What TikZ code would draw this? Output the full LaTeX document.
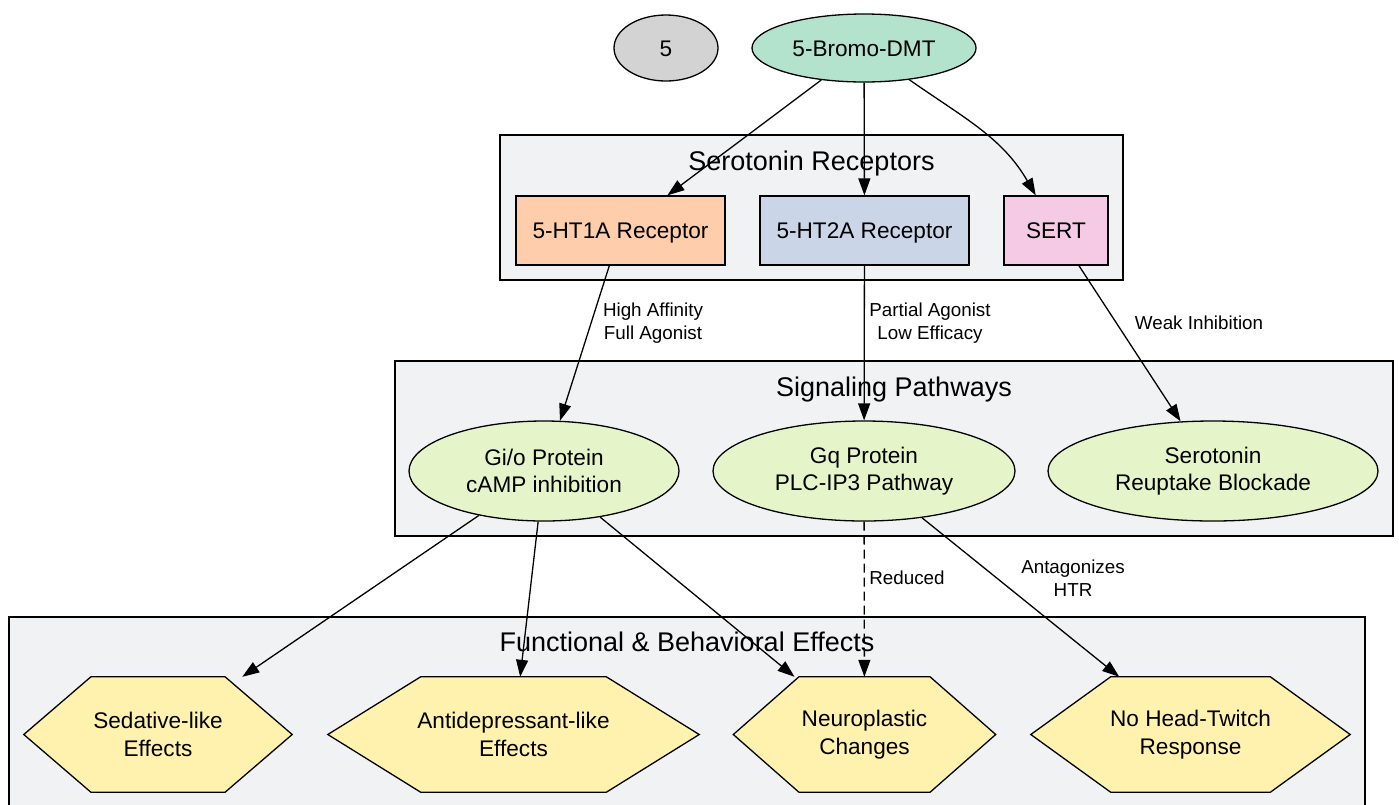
\documentclass[tikz,border=0pt]{standalone}
\usepackage{fontspec}
\setmainfont{Liberation Sans}
\usetikzlibrary{shapes.geometric,arrows.meta,calc}
\pgfdeclarelayer{bg}\pgfdeclarelayer{mid}\pgfsetlayers{bg,mid,main}
\definecolor{clusterfill}{HTML}{F1F2F4}
\definecolor{grayfill}{HTML}{D3D3D3}
\definecolor{mintfill}{HTML}{B3E2CD}
\definecolor{peachfill}{HTML}{FDCDAC}
\definecolor{bluefill}{HTML}{CBD5E8}
\definecolor{pinkfill}{HTML}{F4CAE4}
\definecolor{greenfill}{HTML}{E6F5C9}
\definecolor{hexfill}{HTML}{FFF2AE}
\newcommand\nodefont{\fontsize{22.6pt}{27.5pt}\selectfont}
\newcommand\lblfont{\fontsize{18.8pt}{22.5pt}\selectfont}
\newcommand\titlefont{\fontsize{27pt}{32pt}\selectfont}
\newcommand\drawhex[1]{\draw[hexshape] (#1.west) -- ($(#1.north west)!0.25!(#1.north east)$) -- ($(#1.north west)!0.75!(#1.north east)$) -- (#1.east) -- ($(#1.south west)!0.75!(#1.south east)$) -- ($(#1.south west)!0.25!(#1.south east)$) -- cycle;}
\begin{document}
\begin{tikzpicture}[x=1pt,y=-1pt,
  base/.style={draw=black, line width=1.3pt, inner sep=0pt, font=\nodefont, align=center},
  oval/.style={base, ellipse},
  single/.style={text height=16.2pt, text depth=0pt},
  boxnode/.style={base, rectangle, minimum height=69pt},
  hexnode/.style={rectangle, draw=none, inner sep=0pt, minimum height=115pt, font=\nodefont, align=center},
  hexshape/.style={draw=black, line width=1.3pt, fill=hexfill},
  cluster/.style={draw=black, line width=1.3pt, fill=clusterfill},
  ctitle/.style={anchor=base, font=\titlefont, inner sep=0pt},
  arr/.style={draw=black, line width=1.3pt, -{Triangle[length=17pt,width=12pt]}},
  dasharr/.style={arr, dash pattern=on 9pt off 5pt},
  lbl/.style={font=\lblfont, align=center, inner sep=0pt}
]
\useasboundingbox (0,0) rectangle (1399,804);
\begin{pgfonlayer}{bg}
  \fill[white] (0,0) rectangle (1399,804);
  \draw[cluster] (500,135) rectangle (1123,280);
  \draw[cluster] (395,361) rectangle (1393,536);
  \draw[cluster] (9,617) rectangle (1365,812);
\end{pgfonlayer}
% cluster titles
\node[ctitle] (t1) at (811.5,170) {Serotonin Receptors};
\node[ctitle] (t2) at (894,396) {Signaling Pathways};
\node[ctitle] (t3) at (687,651) {Functional \& Behavioral Effects};
% top nodes
\node[oval, single, fill=grayfill, minimum width=104pt, minimum height=66pt] (five) at (666,48) {5};
\node[oval, single, fill=mintfill, minimum width=224pt, minimum height=68pt] (bromo) at (864,48) {5-Bromo-DMT};
% receptors
\node[boxnode, single, fill=peachfill, minimum width=209pt] (r1a) at (620.5,230.5) {5-HT1A Receptor};
\node[boxnode, single, fill=bluefill, minimum width=209pt] (r2a) at (864.5,230.5) {5-HT2A Receptor};
\node[boxnode, single, fill=pinkfill, minimum width=104pt] (sert) at (1056,230.5) {SERT};
% pathways
\node[oval, fill=greenfill, minimum width=270pt, minimum height=100pt] (gio) at (544,471) {Gi/o Protein\\cAMP inhibition};
\node[oval, fill=greenfill, minimum width=302pt, minimum height=100pt] (gq) at (864,471) {Gq Protein\\PLC-IP3 Pathway};
\node[oval, fill=greenfill, minimum width=330pt, minimum height=100pt] (reup) at (1213,471) {Serotonin\\Reuptake Blockade};
% effects
\node[hexnode, minimum width=268pt] (sed) at (158,734.5) {Sedative-like\\Effects};
\node[hexnode, minimum width=371pt] (anti) at (513.5,734.5) {Antidepressant-like\\Effects};
\node[hexnode, minimum width=262pt] (neuro) at (864.5,734.5) {Neuroplastic\\Changes};
\node[hexnode, minimum width=319pt] (nohead) at (1190.5,734.5) {No Head-Twitch\\Response};
\begin{pgfonlayer}{mid}
  \drawhex{sed}
  \drawhex{anti}
  \drawhex{neuro}
  \drawhex{nohead}
\end{pgfonlayer}
% edges
\draw[arr] (bromo) -- (r1a);
\draw[arr] (bromo) -- (r2a);
\draw[arr] (bromo) to[out=-35,in=120] (sert);
\draw[arr] (r1a) -- (gio) node[lbl] (l1) at (653,323) {High Affinity\\Full Agonist};
\draw[arr] (r2a) -- (gq) node[lbl] (l2) at (930,323) {Partial Agonist\\Low Efficacy};
\draw[arr] (sert) -- (reup) node[lbl] (l3) at (1199,323) {Weak Inhibition};
\draw[arr] (gio) -- (sed);
\draw[arr] (gio) -- (anti);
\draw[arr] (gio) -- (neuro);
\draw[dasharr] (gq) -- (neuro) node[lbl] (l4) at (907,578) {Reduced};
\draw[arr] (gq) -- (nohead) node[lbl] (l5) at (1073,578) {Antagonizes\\HTR};
\end{tikzpicture}
\end{document}
